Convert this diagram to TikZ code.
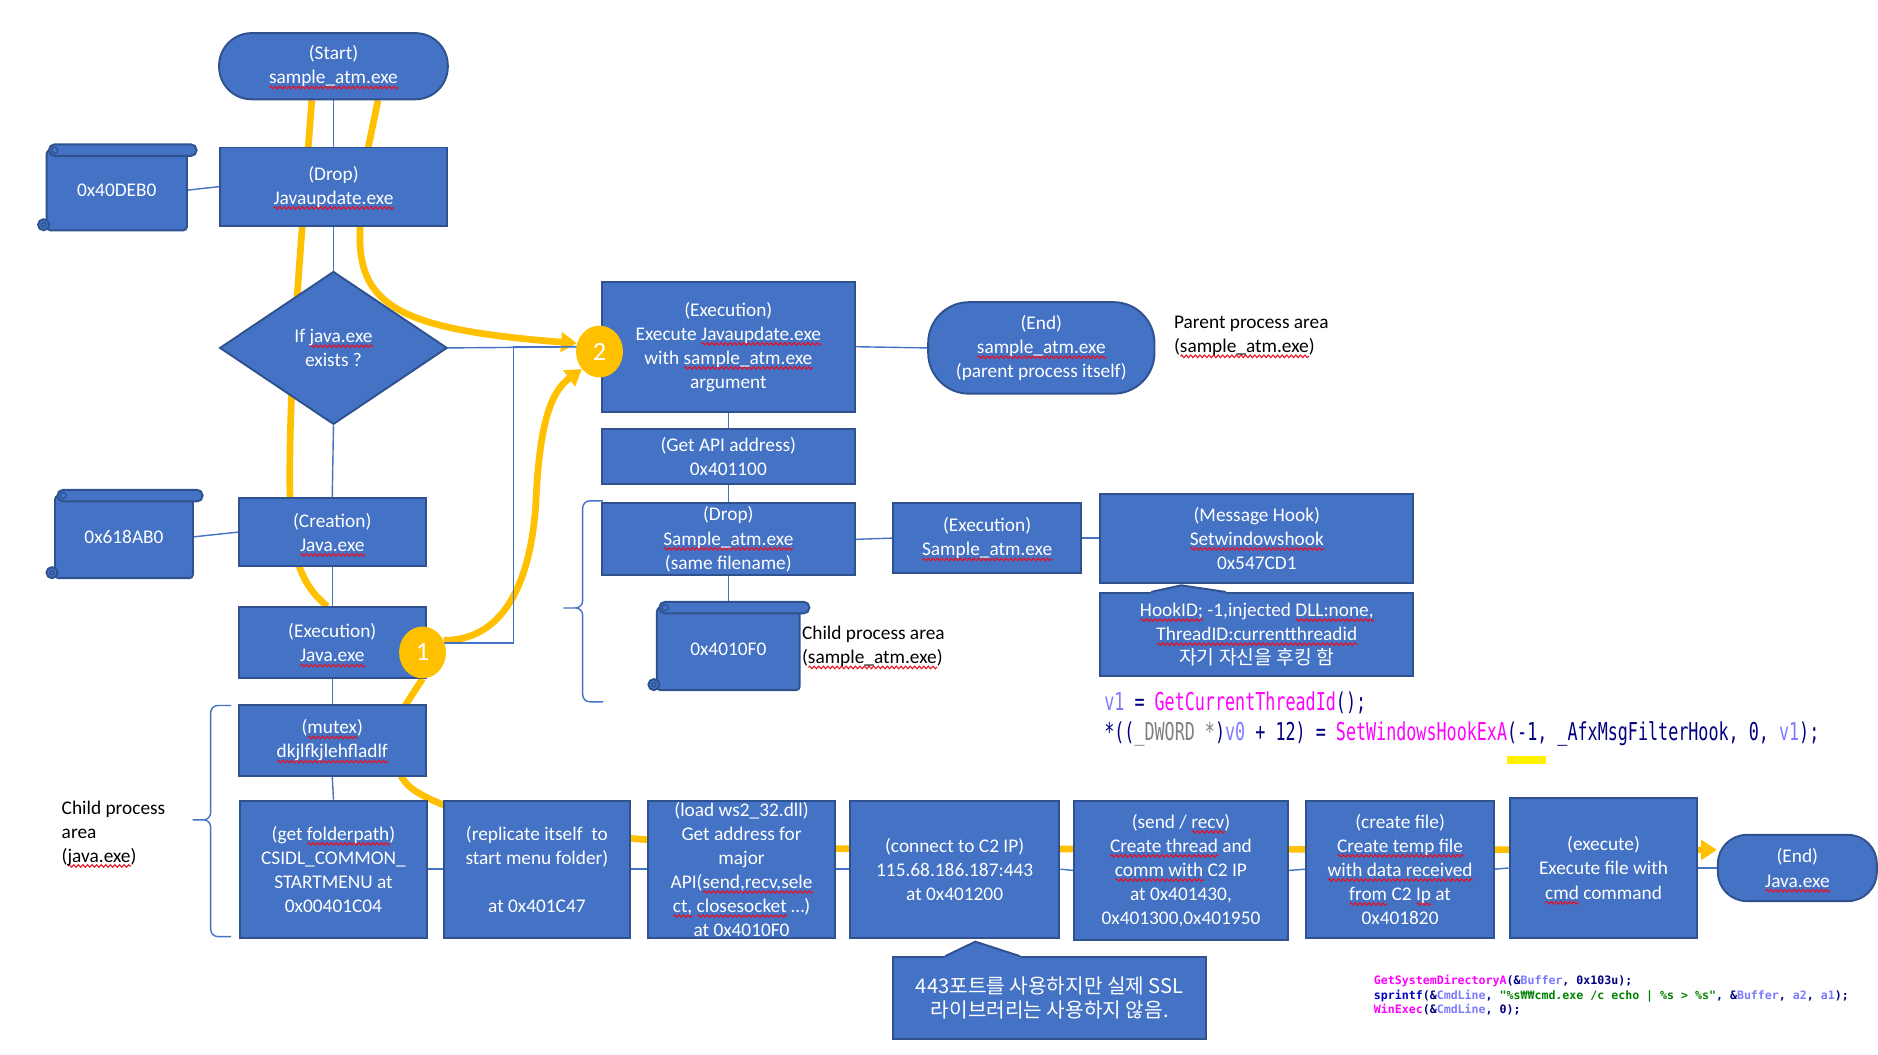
\documentclass[tikz,border=0pt]{standalone}
\usepackage{fontspec}
\setmainfont{Carlito}
\newfontfamily\kr{Noto Sans CJK KR}
\newfontfamily\codefont[FakeStretch=0.68]{DejaVu Sans Mono}
\newfontfamily\codesmall{DejaVu Sans Mono}
\usetikzlibrary{shapes.geometric,arrows.meta,decorations.pathmorphing,calc}

\definecolor{boxblue}{HTML}{4472C4}
\definecolor{boxline}{HTML}{2F528F}
\definecolor{flowgold}{HTML}{FFC000}
\definecolor{codenavy}{HTML}{000080}
\definecolor{codeblue}{HTML}{0000C0}
\definecolor{codemag}{HTML}{FF00FF}
\definecolor{codevar}{HTML}{7B7BFF}
\definecolor{codegray}{HTML}{808080}
\definecolor{codegreen}{HTML}{008000}
\definecolor{spellred}{HTML}{E81123}

\newbox\sqbox
\newcommand\sq[1]{\setbox\sqbox\hbox{#1}\leavevmode\rlap{\raisebox{-3.2pt}[0pt][0pt]{\tikz[x=1pt,y=1pt]\draw[draw=spellred, fill=none, sharp corners, line width=0.6pt, decorate, decoration={zigzag, segment length=2.6pt, amplitude=0.75pt}] (0pt,0pt) -- (\the\wd\sqbox,0pt);}}\box\sqbox}
\newcommand\dpx{0.02408cm}

\pgfdeclarelayer{paper}
\pgfdeclarelayer{lines}
\pgfdeclarelayer{shapes}
\pgfsetlayers{paper,lines,shapes,main}

\tikzset{
  sz/.style 2 args={minimum width=#1*\dpx, minimum height=#2*\dpx},
  boxtext/.style={text=white, align=center, inner sep=0pt, font=\fontsize{11}{13.7}\selectfont},
  box/.style={boxtext, draw=boxline, line width=1.1pt, fill=boxblue},
  term/.style={box, rounded corners=#1*\dpx},
  decide/.style={box, diamond, aspect=1.49},
  skin/.style={draw=boxline, line width=1.1pt, fill=boxblue},
  note/.style={anchor=west, align=left, inner sep=0pt, font=\fontsize{11}{13.7}\selectfont},
  badge/.style={ellipse, fill=flowgold, text=white, inner sep=0pt, minimum width=39*\dpx, minimum height=43*\dpx, font=\fontsize{15}{15}\selectfont},
  link/.style={draw=boxblue, line width=0.8pt},
  flow/.style={draw=flowgold, line width=3.8pt},
  flowtip/.style={flow, -{Triangle[length=9pt,width=11pt]}},
  bracket/.style={draw=boxblue, line width=0.8pt, rounded corners=6*\dpx},
  codeline/.style={anchor=base west, inner sep=0pt, text=codenavy, font=\codefont\fontsize{14}{17}\selectfont},
  codetiny/.style={anchor=base west, inner sep=0pt, text=codenavy, font=\codesmall\bfseries\fontsize{6.6}{8}\selectfont},
}

\newcommand\scrollframe[1]{%
  \begin{pgfonlayer}{shapes}
    \filldraw[skin, rounded corners=3*\dpx] (#1.north west) rectangle (#1.south east);%
    \filldraw[skin] ($(#1.south west)+(-2.5,-4.6)$) circle[radius=4.6];%
    \draw[boxline, line width=0.7pt] ($(#1.south west)+(-2.5,-4.6)$) circle[radius=1.8];%
    \filldraw[skin, rounded corners=4.6*\dpx] ($(#1.north west)+(2,-4.8)$) rectangle ($(#1.north east)+(8,4.8)$);%
    \draw[boxline, line width=0.7pt] ($(#1.north west)+(6.8,0)$) circle[radius=2.6];%
  \end{pgfonlayer}}

\begin{document}
\begin{tikzpicture}[x=\dpx,y=-\dpx]
\useasboundingbox (0,0) rectangle (1560,876);

% Drawing parent process column
\node[term=27, sz={190}{55}] (start) at (277,55) {(Start)\\\sq{sample\_atm.exe}};%
\node[box, sz={188}{65}] (drop) at (277,155) {(Drop)\\\sq{Javaupdate.exe}};%
\node[decide, sz={189}{127}] (ifjava) at (277,289) {If \sq{java.exe}\\exists ?};%
\node[box, sz={155}{57}] (creat) at (276,442) {(Creation)\\\sq{Java.exe}};%
\node[box, sz={155}{59}] (javaexec) at (276,534) {(Execution)\\\sq{Java.exe}};%
\node[box, sz={155}{59}] (mutex) at (276,615) {(\sq{mutex})\\\sq{dkjlfkjlehfladlf}};%

% Drawing scrolls on the left
\node[boxtext, sz={116}{66}] (sc1) at (97,158) {0x40DEB0};%
\node[boxtext, sz={114}{68}] (sc2) at (103,446) {0x618AB0};%

% Drawing execution branch
\node[box, sz={210}{108}] (exec) at (605,288) {(Execution)\\Execute \sq{Javaupdate.exe}\\with \sq{sample\_atm.exe}\\argument};%
\node[term=34, sz={188}{76}] (endp) at (865,289) {(End)\\\sq{sample\_atm.exe}\\(parent process itself)};%
\node[note] (parentnote) at (975,279) {Parent process area\\(\sq{sample\_atm.exe})};%
\node[box, sz={210}{46}] (getapi) at (605,379) {(Get API address)\\0x401100};%
\node[box, sz={210}{60}] (drops) at (605,448) {(Drop)\\\sq{Sample\_atm.exe}\\(same filename)};%
\node[box, sz={156}{58}] (execs) at (820,447) {(Execution)\\\sq{Sample\_atm.exe}};%
\node[box, sz={260}{74}] (hook) at (1044,447) {(Message Hook)\\\sq{Setwindowshook}\\0x547CD1};%
\node[box, sz={260}{69}] (hooknote) at (1044,527) {\sq{HookID;} -1,injected \sq{DLL:none,}\\\sq{ThreadID:currentthreadid}\\{\kr 자기 자신을 후킹 함}};%
\fill[boxblue] ($(hooknote.north west)+(41,4)$) -- ($(hooknote.north west)+(43,0)$) -- ($(hooknote.north west)+(68,-5.5)$) -- ($(hooknote.north west)+(105,0)$) -- ($(hooknote.north west)+(107,4)$) -- cycle;%
\draw[boxline, line width=1.1pt] ($(hooknote.north west)+(43,0)$) -- ($(hooknote.north west)+(68,-5.5)$) -- ($(hooknote.north west)+(105,0)$);%
\node[boxtext, sz={118}{68}] (sc3) at (605,539) {0x4010F0};%
\node[note] (childnote) at (666,537) {Child process area\\(\sq{sample\_atm.exe})};%

% Drawing code of the message hook
\node[codeline] (hookcode1) at (917,590) {\textcolor{codevar}{v1} = \textcolor{codemag}{GetCurrentThreadId}();};%
\node[codeline] (hookcode2) at (917,615) {*((\textcolor{codegray}{\_DWORD *})\textcolor{codevar}{v0} + 12) = \textcolor{codemag}{SetWindowsHookExA}(-1, \_AfxMsgFilterHook, 0, \textcolor{codevar}{v1});};%
\fill[yellow] (1252,628) rectangle (1284,635);%

% Drawing child process row
\node[note] (javanote) at (51,692) {Child process\\area\\(\sq{java.exe})};%
\node[box, sz={156}{114}] (folder) at (277,722) {(get \sq{folderpath})\\CSIDL\_COMMON\_\\STARTMENU at\\0x00401C04};%
\node[box, sz={155}{114}] (repl) at (446,722) {(replicate itself~ to\\start menu folder)\\ \strut\\at 0x401C47};%
\node[box, sz={155}{114}] (load) at (616,722) {(load ws2\_32.dll)\\Get address for\\major\\API(\sq{send,recv,sele}\\\sq{ct,} \sq{closesocket} \ldots)\\at 0x4010F0};%
\node[box, sz={174}{114}] (conn) at (793,722) {(connect to C2 IP)\\115.68.186.187:443\\at 0x401200};%
\node[box, sz={178}{116}] (sendr) at (981,723) {(send / \sq{recv})\\\sq{Create thread} and\\\sq{comm with} C2 IP\\at 0x401430,\\0x401300,0x401950};%
\node[box, sz={156}{114}] (create) at (1163,722) {(create file)\\\sq{Create temp file}\\\sq{with data received}\\\sq{from} C2 \sq{Ip} at\\0x401820};%
\node[box, sz={156}{116}] (execf) at (1332,721) {(execute)\\Execute file with\\\sq{cmd} command};%
\node[term=24, sz={132}{55}] (endj) at (1493,721) {(End)\\\sq{Java.exe}};%
\node[box, sz={260}{68}, font=\kr\fontsize{11.5}{14}\selectfont] (sslnote) at (872,829) {443포트를 사용하지만 실제 SSL\\라이브러리는 사용하지 않음.};%
\fill[boxblue] ($(sslnote.north west)+(42,4)$) -- ($(sslnote.north west)+(44,0)$) -- ($(sslnote.north west)+(69,-12)$) -- ($(sslnote.north west)+(106,0)$) -- ($(sslnote.north west)+(108,4)$) -- cycle;%
\draw[boxline, line width=1.1pt] ($(sslnote.north west)+(44,0)$) -- ($(sslnote.north west)+(69,-12)$) -- ($(sslnote.north west)+(106,0)$);%

% Drawing code of the execute step
\node[codetiny] (execcode1) at (1141,817.5) {\textcolor{codemag}{GetSystemDirectoryA}(\&\textcolor{codevar}{Buffer}, 0x103u);};%
\node[codetiny] (execcode2) at (1141,830) {\textcolor{codeblue}{sprintf}(\&\textcolor{codevar}{CmdLine}, \textcolor{codegreen}{"\%s₩₩cmd.exe /c echo | \%s > \%s"}, \&\textcolor{codevar}{Buffer}, \textcolor{codevar}{a2}, \textcolor{codevar}{a1});};%
\node[codetiny] (execcode3) at (1141,841.5) {\textcolor{codemag}{WinExec}(\&\textcolor{codevar}{CmdLine}, 0);};%

% Marking steps 1 and 2 by circles
\node[badge] (c1) at (351,542) {1};%
\node[badge] (c2) at (498,292) {2};%

% Drawing braces
\draw[bracket] (501,416) -- (484,416) -- (484,505) -- (468,505) (468,505) -- (484,505) -- (484,583) -- (501,583);%
\draw[bracket] (192,586) -- (175,586) -- (175,681) -- (160,681) (160,681) -- (175,681) -- (175,778) -- (192,778);%

% Drawing scroll frames
\scrollframe{sc1}
\scrollframe{sc2}
\scrollframe{sc3}

\begin{pgfonlayer}{lines}
% Drawing flow lines
\draw[flow] ($(start.south)+(-18,0)$) .. controls (248,230) and (239,330) .. (241,420) .. controls (242,470) and (255,490) .. ($(javaexec.north)+(-4,0)$);%
\draw[flowtip] ($(start.south)+(37,0)$) -- (306,122) .. controls (300,160) and (299,175) .. (299,195) .. controls (298,255) and (335,274) .. (c2.160);%
\draw[flowtip] (c1.30) .. controls (415,532) and (440,490) .. (445,420) .. controls (448,350) and (458,325) .. (c2.225);%
\draw[flowtip] (c1.south) -- (334,590) .. controls (327,625) and (326,645) .. (345,657) .. controls (380,680) and (470,700) .. (700,705) -- ($(endj.west)+(0,-15)$);%

% Drawing connectors
\draw[link] (start.south) -- (drop.north);%
\draw[link] (sc1.east) -- (drop.west);%
\draw[link] (drop.south) -- (ifjava.north);%
\draw[link] (ifjava.east) -- (exec.west);%
\draw[link] (exec.east) -- (endp.west);%
\draw[link] (exec.south) -- (getapi.north);%
\draw[link] (getapi.south) -- (drops.north);%
\draw[link] (drops.east) -- (execs.west);%
\draw[link] (execs.east) -- (hook.west);%
\draw[link] (drops.south) -- (sc3.north);%
\draw[link] (ifjava.south) -- (creat.north);%
\draw[link] (sc2.east) -- (creat.west);%
\draw[link] (creat.south) -- (javaexec.north);%
\draw[link] (javaexec.east) -- ++(72,0) |- (exec.west);%
\draw[link] (javaexec.south) -- (mutex.north);%
\draw[link] (mutex.south) -- (folder.north);%
\draw[link] (folder.east) -- (repl.west);%
\draw[link] (repl.east) -- (load.west);%
\draw[link] (load.east) -- (conn.west);%
\draw[link] (conn.east) -- (sendr.west);%
\draw[link] (sendr.east) -- (create.west);%
\draw[link] (create.east) -- (execf.west);%
\draw[link] (execf.east) -- (endj.west);%
\end{pgfonlayer}

\begin{pgfonlayer}{paper}
\fill[white] (0,0) rectangle (1560,876);%
\end{pgfonlayer}
\end{tikzpicture}
\end{document}
